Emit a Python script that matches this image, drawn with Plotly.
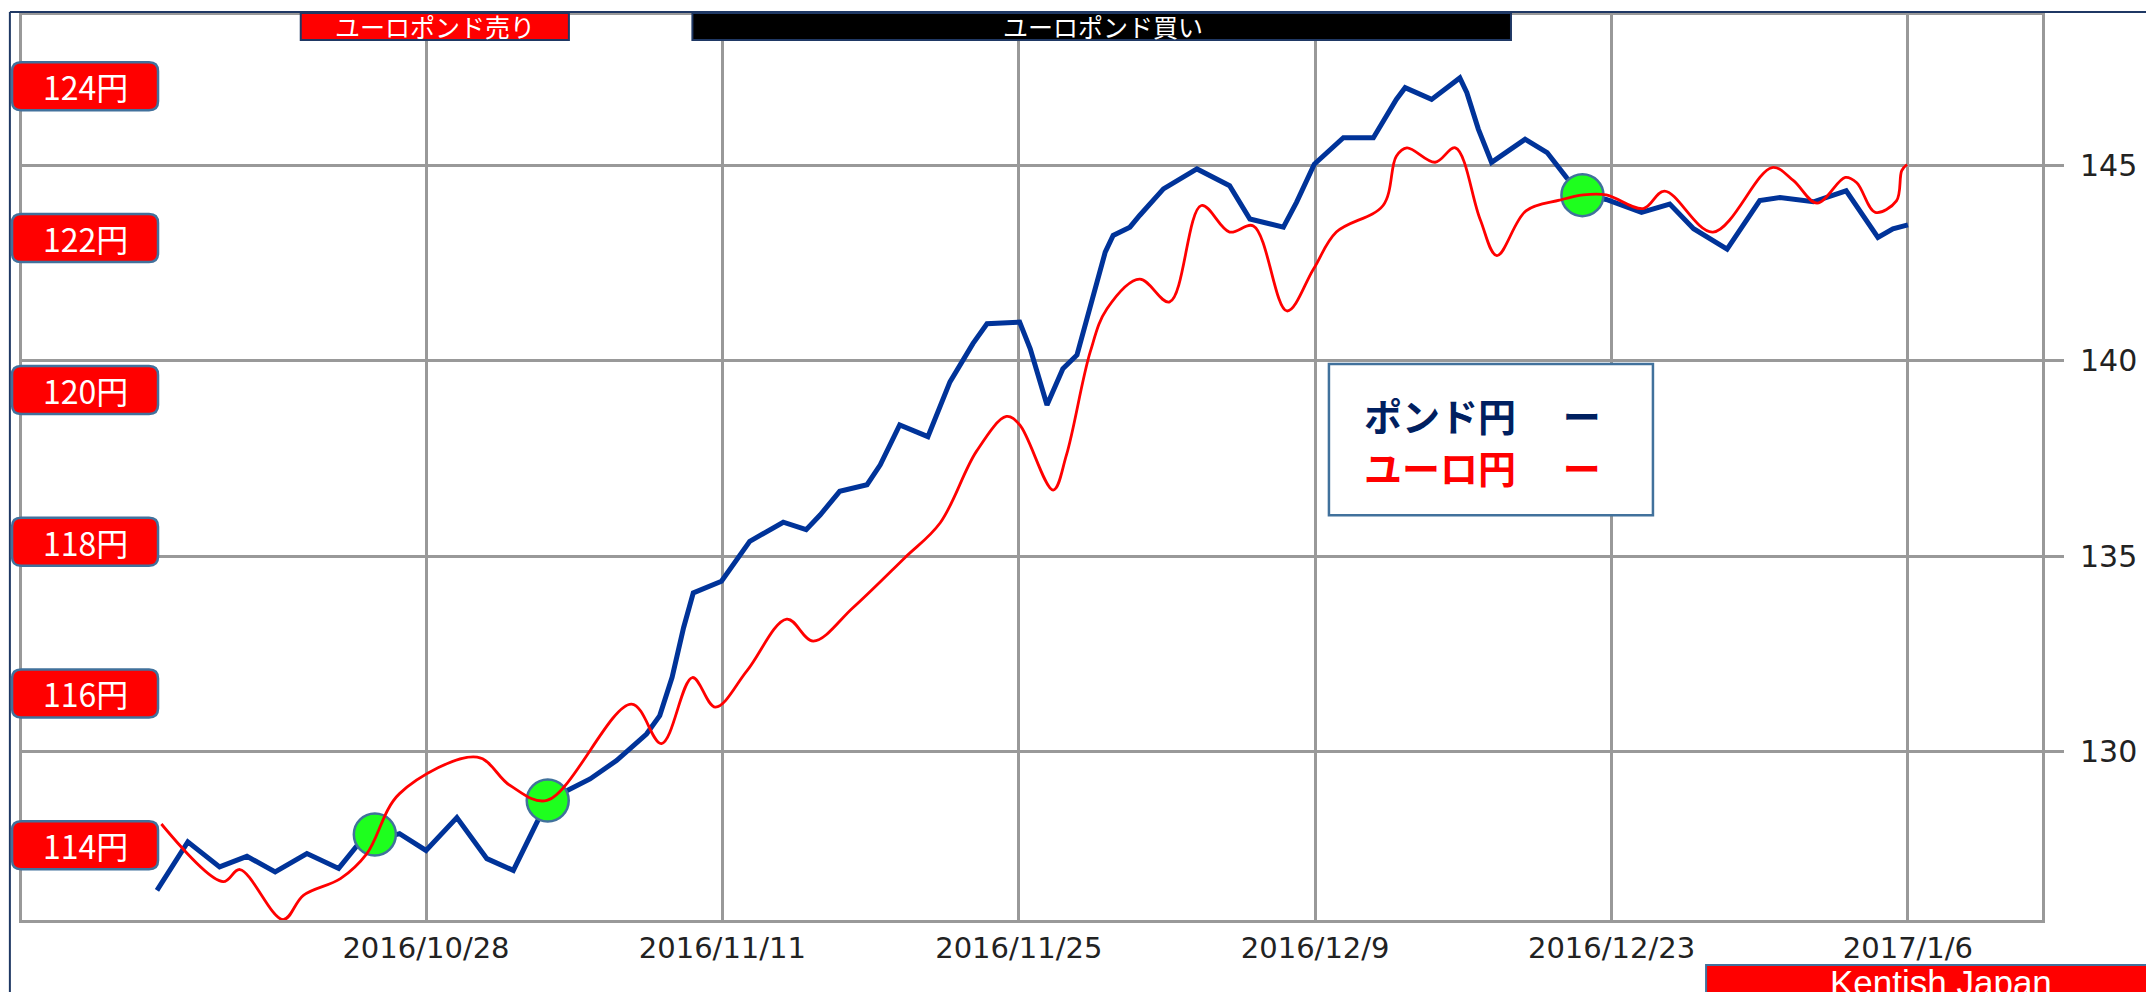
import plotly.graph_objects as go

# --- datos ---
pound_dates = [
    "2016-10-15 07:00", "2016-10-16 18:00", "2016-10-18 06:00", "2016-10-19 13:00",
    "2016-10-20 21:00", "2016-10-22 09:00", "2016-10-23 21:00", "2016-10-24 18:00",
    "2016-10-26 18:00", "2016-10-28 00:00", "2016-10-29 11:00", "2016-10-30 21:00",
    "2016-11-01 03:00", "2016-11-02 18:00", "2016-11-04 18:00", "2016-11-06 00:00",
    "2016-11-07 10:00", "2016-11-08 01:00", "2016-11-08 15:00", "2016-11-09 04:00",
    "2016-11-09 15:00", "2016-11-10 23:00", "2016-11-12 07:00", "2016-11-13 21:00",
    "2016-11-14 23:00", "2016-11-15 15:00", "2016-11-16 13:00", "2016-11-17 20:00",
    "2016-11-18 11:00", "2016-11-19 09:00", "2016-11-20 17:00", "2016-11-21 18:00",
    "2016-11-22 20:00", "2016-11-23 12:00", "2016-11-25 01:00", "2016-11-25 13:00",
    "2016-11-26 08:00", "2016-11-27 02:00", "2016-11-27 18:00", "2016-11-28 05:00",
    "2016-11-28 16:00", "2016-11-29 02:00", "2016-11-29 11:00", "2016-11-30 06:00",
    "2016-11-30 17:00", "2016-12-01 20:00", "2016-12-03 10:00", "2016-12-04 23:00",
    "2016-12-05 22:00", "2016-12-07 12:00", "2016-12-08 03:00", "2016-12-08 23:00",
    "2016-12-10 08:00", "2016-12-11 18:00", "2016-12-12 20:00", "2016-12-13 06:00",
    "2016-12-14 12:00", "2016-12-15 20:00", "2016-12-16 04:00", "2016-12-16 17:00",
    "2016-12-17 08:00", "2016-12-18 22:00", "2016-12-19 23:00", "2016-12-20 21:00",
    "2016-12-21 15:00", "2016-12-22 18:00", "2016-12-24 10:00", "2016-12-25 18:00",
    "2016-12-26 21:00", "2016-12-28 11:00", "2016-12-30 00:00", "2016-12-30 23:00",
    "2017-01-01 13:00", "2017-01-03 02:00", "2017-01-04 14:00", "2017-01-05 07:00",
    "2017-01-06 00:00",
]
pound_yen = [
    126.45, 127.69, 127.05, 127.32, 126.92, 127.39, 127.01, 127.60,
    127.90, 127.47, 128.31, 127.26, 126.96, 128.75, 129.30, 129.77,
    130.45, 130.92, 131.90, 133.17, 134.06, 134.36, 135.38, 135.87,
    135.68, 136.06, 136.66, 136.83, 137.34, 138.36, 138.06, 139.46,
    140.44, 140.95, 140.99, 140.31, 138.87, 139.80, 140.15, 141.08,
    142.02, 142.78, 143.21, 143.42, 143.72, 144.40, 144.91, 144.48,
    143.63, 143.42, 144.06, 145.03, 145.71, 145.71, 146.69, 146.99,
    146.69, 147.24, 146.86, 145.93, 145.08, 145.67, 145.33, 144.69,
    144.24, 144.13, 143.80, 144.01, 143.38, 142.86, 144.10, 144.18,
    144.07, 144.35, 143.16, 143.38, 143.48,
]

euro_dates = [
    "2016-10-15 12:00", "2016-10-18 10:00", "2016-10-19 05:00", "2016-10-21 06:00",
    "2016-10-22 05:00", "2016-10-23 23:00", "2016-10-25 05:00", "2016-10-26 18:00",
    "2016-10-30 10:00", "2016-10-31 23:00", "2016-11-02 17:00", "2016-11-06 17:00",
    "2016-11-08 03:00", "2016-11-09 14:00", "2016-11-10 16:00", "2016-11-12 04:00",
    "2016-11-14 01:00", "2016-11-15 07:00", "2016-11-17 04:00", "2016-11-19 14:00",
    "2016-11-21 07:00", "2016-11-23 00:00", "2016-11-24 10:00", "2016-11-25 01:00",
    "2016-11-26 15:00", "2016-11-27 06:00", "2016-11-28 09:00", "2016-11-29 04:00",
    "2016-11-30 17:00", "2016-12-02 03:00", "2016-12-03 15:00", "2016-12-04 23:00",
    "2016-12-06 02:00", "2016-12-07 16:00", "2016-12-08 22:00", "2016-12-10 00:00",
    "2016-12-12 05:00", "2016-12-12 20:00", "2016-12-13 08:00", "2016-12-14 16:00",
    "2016-12-15 15:00", "2016-12-16 19:00", "2016-12-17 14:00", "2016-12-18 23:00",
    "2016-12-20 13:00", "2016-12-21 16:00", "2016-12-22 18:00", "2016-12-24 12:00",
    "2016-12-25 12:00", "2016-12-27 19:00", "2016-12-30 14:00", "2016-12-31 14:00",
    "2017-01-01 17:00", "2017-01-03 01:00", "2017-01-03 14:00", "2017-01-04 11:00",
    "2017-01-05 11:00", "2017-01-05 17:00", "2017-01-05 23:00",
]
euro_yen = [
    114.28, 113.52, 113.68, 113.02, 113.34, 113.56, 113.89, 114.68,
    115.16, 114.79, 114.59, 115.86, 115.34, 116.21, 115.82, 116.30,
    116.98, 116.69, 117.13, 117.78, 118.25, 119.19, 119.65, 119.54,
    118.68, 119.14, 120.50, 121.07, 121.46, 121.16, 122.43, 122.08,
    122.16, 121.04, 121.59, 122.08, 122.43, 123.08, 123.19, 123.00,
    123.19, 122.25, 121.77, 122.36, 122.50, 122.57, 122.57, 122.39,
    122.62, 122.08, 122.93, 122.76, 122.46, 122.80, 122.73, 122.34,
    122.49, 122.89, 122.97,
]

cross_dates = ["2016-10-25 14:00", "2016-11-02 18:00", "2016-12-21 15:00"]
cross_values = [127.88, 128.75, 144.24]

euro_levels = [124, 122, 120, 118, 116, 114]
euro_level_labels = ["124円", "122円", "120円", "118円", "116円", "114円"]

tick_dates = ["2016-10-28", "2016-11-11", "2016-11-25", "2016-12-09", "2016-12-23", "2017-01-06"]
tick_labels = ["2016/10/28", "2016/11/11", "2016/11/25", "2016/12/9", "2016/12/23", "2017/1/6"]
pound_ticks = [130, 135, 140, 145]

sell_period = ["2016-10-22 02:00", "2016-11-03 18:00"]
buy_period = ["2016-11-09 14:00", "2016-12-18 06:00"]

GRID = "#999999"
NAVY = "#1F3864"
STEEL = "#41719C"
JP = "Noto Sans CJK JP"

fig = go.Figure()

fig.add_trace(go.Scatter(
    x=pound_dates, y=pound_yen, mode="lines", name="ポンド円",
    line=dict(color="#003399", width=5), yaxis="y", showlegend=False,
))
fig.add_trace(go.Scatter(
    x=euro_dates, y=euro_yen, mode="lines", name="ユーロ円",
    line=dict(color="#FF0000", width=2.8, shape="spline", smoothing=1.0),
    yaxis="y2", showlegend=False,
))
fig.add_trace(go.Scatter(
    x=cross_dates, y=cross_values, mode="markers", yaxis="y", showlegend=False,
    marker=dict(size=42, color="#1EFF1E", line=dict(color=STEEL, width=2.5)),
))

shapes = []
annotations = []

# --- marco exterior ---
shapes.append(dict(type="line", xref="paper", yref="paper", x0=-0.006, x1=-0.006,
                   y0=1.0033, y1=-0.1, line=dict(color=NAVY, width=2)))
shapes.append(dict(type="line", xref="paper", yref="paper", x0=-0.006, x1=1.07,
                   y0=1.0033, y1=1.0033, line=dict(color=NAVY, width=2)))

# --- barras superiores (venta / compra) ---
for period, fill, label, mid in [(sell_period, "#FF0000", "ユーロポンド売り", "2016-10-28 10:00"),
                                 (buy_period, "#000000", "ユーロポンド買い", "2016-11-29 00:00")]:
    shapes.append(dict(type="rect", xref="x", yref="paper", x0=period[0], x1=period[1],
                       y0=0.9725, y1=1.0022, fillcolor=fill, line=dict(color=NAVY, width=2),
                       layer="above"))
    annotations.append(dict(xref="x", yref="paper", showarrow=False,
                            x=mid, y=0.9873, xanchor="center", yanchor="middle", text=label,
                            font=dict(family=JP, size=25, color="white")))

# --- etiquetas 円 a la izquierda (eje de la ユーロ円) ---
w, h, r = 73, 24, 9
rounded = (f"M {-w + r},{-h} L {w - r},{-h} Q {w},{-h} {w},{-h + r} L {w},{h - r} "
           f"Q {w},{h} {w - r},{h} L {-w + r},{h} Q {-w},{h} {-w},{h - r} "
           f"L {-w},{-h + r} Q {-w},{-h} {-w + r},{-h} Z")
for lvl, txt in zip(euro_levels, euro_level_labels):
    shapes.append(dict(type="path", xref="paper", yref="y2", xsizemode="pixel",
                       ysizemode="pixel", xanchor=0.0312, yanchor=lvl, path=rounded,
                       fillcolor="#FF0000", line=dict(color=STEEL, width=2.5), layer="above"))
    annotations.append(dict(xref="paper", yref="y2", x=0.0312, y=lvl, text=txt,
                            xanchor="center", yanchor="middle", showarrow=False,
                            font=dict(family=JP, size=32, color="white")))

# --- cuadro de leyenda ---
shapes.append(dict(type="rect", xref="paper", yref="paper", x0=0.6470, x1=0.8074,
                   y0=0.4471, y1=0.6145, fillcolor="white",
                   line=dict(color=STEEL, width=2.5), layer="above"))
annotations.append(dict(xref="paper", yref="paper", x=0.6634, y=0.5584, xanchor="left",
                        yanchor="middle", text="<b>ポンド円　 ー</b>", showarrow=False,
                        font=dict(family=JP, size=38, color="#002060")))
annotations.append(dict(xref="paper", yref="paper", x=0.6634, y=0.5011, xanchor="left",
                        yanchor="middle", text="<b>ユーロ円　 ー</b>", showarrow=False,
                        font=dict(family=JP, size=38, color="#FF0000")))

# --- firma ---
shapes.append(dict(type="rect", xref="paper", yref="paper", x0=0.8337, x1=1.07,
                   y0=-0.12, y1=-0.0496, fillcolor="#FF0000",
                   line=dict(color=STEEL, width=2), layer="above"))
annotations.append(dict(xref="paper", yref="paper", x=0.950, y=-0.0694,
                        xanchor="center", yanchor="middle",
                        text="Kentish Japan", showarrow=False,
                        font=dict(family="Liberation Sans", size=35, color="white")))

# la página añade 8 px de margen al cuerpo: se compensa en los márgenes
fig.update_layout(
    width=2154, height=992,
    margin=dict(l=14, r=120, t=4, b=80),
    paper_bgcolor="white", plot_bgcolor="white",
    xaxis=dict(
        type="date", range=["2016-10-08 22:00", "2017-01-12 08:00"],
        tickmode="array", tickvals=tick_dates, ticktext=tick_labels,
        showgrid=True, gridcolor=GRID, gridwidth=3,
        showline=True, linecolor=GRID, linewidth=3, mirror=True,
        ticks="", ticklabelstandoff=0,
        tickfont=dict(family="DejaVu Sans", size=29, color="#222222"),
        zeroline=False,
    ),
    yaxis=dict(
        side="right", range=[125.69, 148.85],
        tickmode="array", tickvals=pound_ticks,
        showgrid=True, gridcolor=GRID, gridwidth=3,
        showline=True, linecolor=GRID, linewidth=3, mirror=True,
        ticks="outside", ticklen=19, tickwidth=3, tickcolor=GRID,
        ticklabelstandoff=10,
        tickfont=dict(family="DejaVu Sans", size=30, color="#222222"),
        zeroline=False,
    ),
    yaxis2=dict(
        overlaying="y", side="left", range=[113.015, 124.94],
        visible=False, showgrid=False, zeroline=False,
    ),
    shapes=shapes,
    annotations=annotations,
    showlegend=False,
)

fig.write_html("out.html")
